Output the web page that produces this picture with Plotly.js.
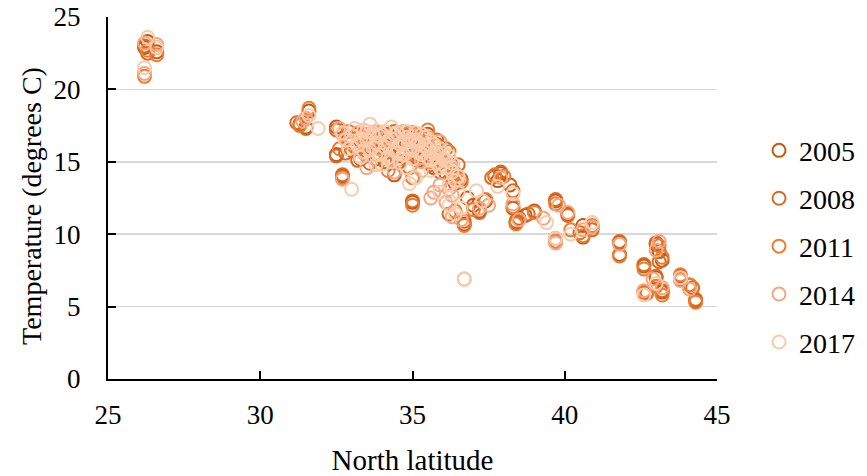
<!DOCTYPE html>
<html>
<head>
<meta charset="utf-8">
<script src="https://cdn.plot.ly/plotly-3.0.1.min.js"></script>
<style>html,body{margin:0;padding:0;background:#fff;}#chart{width:867px;height:476px;}</style>
</head>
<body>
<div id="chart"></div>
<script>
var seriesNames = ["2005", "2008", "2011", "2014", "2017"];

var lat2005 = [26.2,26.3,26.6,31.3,31.6,31.5,32.5,32.5,32.7,32.9,33.0,33.2,33.3,33.5,33.7,33.8,34.0,34.1,34.2,34.4,34.5,34.6,34.8,34.9,35.0,35.1,35.2,35.3,35.5,35.6,35.7,35.8,36.0,36.1,36.3,36.4,36.6,36.7,36.8,37.0,37.2,37.4,37.7,37.8,37.9,38.2,38.3,38.4,38.5,38.7,39.0,39.7,39.7,40.1,40.6,40.6,40.9,41.8,41.8,42.6,42.7,43.0,43.1,43.2,43.0,43.2,43.8,44.1,44.3];
var temp2005 = [22.9,23.3,22.6,17.6,18.5,17.4,17.4,15.5,14.0,16.6,15.8,16.9,15.2,16.3,17.0,15.6,16.5,15.0,16.9,14.1,16.2,15.4,16.8,15.9,12.2,16.6,15.1,16.0,16.9,15.3,14.6,16.2,15.0,14.2,14.8,13.5,13.8,10.7,12.5,12.0,11.6,12.3,14.0,13.7,14.2,13.4,11.8,10.8,11.1,11.3,11.6,12.3,9.5,11.4,10.6,9.8,10.5,9.4,8.6,7.8,6.0,9.3,8.8,8.2,7.0,6.0,7.1,6.5,5.4];

var lat2008 = [26.2,26.3,26.6,31.2,31.5,32.5,32.8,33.0,33.2,33.4,33.6,33.8,34.0,34.2,34.4,34.6,34.8,35.0,35.2,35.4,35.6,35.8,35.9,36.1,36.3,36.5,33.6,34.9,32.5,32.7,35.0,36.2,36.7,37.2,37.6,37.9,38.3,38.4,38.8,39.7,39.7,40.1,40.5,40.9,41.8,42.6,42.6,43.0,43.1,43.0,43.2,43.8,44.2,44.3];
var temp2008 = [23.0,22.5,22.9,17.7,17.3,17.2,15.6,16.6,15.1,16.9,16.0,15.2,16.7,15.8,17.1,15.0,16.2,17.0,15.4,16.6,14.8,16.5,14.3,15.9,13.9,14.8,14.9,14.6,15.4,14.1,12.3,11.4,10.9,11.5,13.9,14.3,13.0,10.9,11.4,12.4,9.7,11.3,10.1,10.3,9.5,7.9,6.0,9.4,8.1,7.1,6.1,6.9,6.3,5.5];

var lat2011 = [26.3,26.2,26.6,31.3,31.6,32.9,33.1,33.3,33.5,33.7,33.9,34.1,34.3,34.5,34.7,34.9,35.1,35.3,35.5,35.6,35.8,36.0,36.2,36.4,36.6,34.2,35.0,32.6,32.7,35.0,36.4,36.7,37.0,37.4,37.7,38.0,38.3,38.4,39.0,39.7,39.7,40.2,40.6,40.9,41.8,42.6,42.7,43.1,43.2,43.0,43.2,43.8,44.1,44.3];
var temp2011 = [22.7,20.9,22.4,17.5,18.7,17.1,16.0,16.7,15.4,16.2,17.0,15.6,16.5,15.1,16.4,17.0,15.5,16.3,17.2,15.0,16.1,14.7,15.7,14.2,13.6,14.4,13.9,15.9,13.9,12.0,11.6,10.6,11.7,12.4,14.1,14.0,11.9,10.7,11.5,9.5,12.1,10.3,9.9,10.6,8.5,7.6,5.9,9.2,8.4,6.4,5.8,7.2,6.5,5.3];

var lat2014 = [26.2,26.2,26.6,31.5,31.4,33.0,33.2,33.4,33.6,33.8,33.9,34.1,34.3,34.5,34.7,34.8,35.0,35.2,35.3,35.5,35.6,35.8,35.9,36.1,36.3,36.5,33.5,34.4,35.3,36.2,32.7,32.6,32.7,35.7,36.7,36.3,36.6,37.2,37.5,37.9,38.3,38.5,39.3,39.7,39.8,40.1,40.6,40.9,41.8,42.6,42.9,43.0,43.1,43.2,43.8,44.1,35.9,36.3,36.1,35.6];
var temp2014 = [23.2,21.1,23.1,18.0,17.8,16.3,17.0,15.6,16.6,17.1,15.9,16.6,15.2,16.4,17.1,15.6,16.8,16.2,15.0,16.7,15.9,15.3,16.4,15.0,14.5,13.7,14.6,14.3,14.4,13.1,16.9,17.3,13.8,12.9,6.9,11.2,11.0,11.8,12.0,13.9,12.1,11.0,11.1,9.4,12.0,11.5,10.3,10.5,9.3,6.1,6.9,8.9,9.5,6.3,6.8,6.2,13.4,12.7,12.2,12.5];

var lat2017 = [33.0,33.2,33.4,33.5,33.6,33.7,33.8,33.9,34.0,34.1,34.2,34.3,34.4,34.5,34.6,34.7,34.8,34.9,35.0,35.1,35.2,35.3,35.4,35.5,35.6,35.7,35.8,35.9,36.0,36.1,36.2,36.3,36.5,34.0,34.6,33.3,33.1,32.8,35.0,34.3,33.6,
  33.3,33.5,33.7,33.9,34.1,34.2,34.4,34.5,34.7,34.8,34.9,35.0,35.1,35.2,35.3,35.4,35.5,35.6,35.7,35.8,35.9,36.0,36.1,36.3,36.4,35.6,34.8,34.3,33.8,33.4,32.7,32.9,36.2,35.1,
  26.3,26.2,26.6,31.6,31.9,33.0,34.9,36.7,36.2,36.6,37.3,37.8,38.3,39.4,39.7,40.2,40.9,42.6,43.0,43.8,36.5,37.1,36.4,35.9];
var temp2017 = [16.8,16.2,17.2,16.5,15.8,17.0,16.3,15.5,16.9,16.0,15.3,16.6,15.8,17.0,16.2,15.5,16.7,15.9,15.2,16.5,15.7,16.9,16.1,15.3,16.4,15.6,14.9,15.9,15.2,14.6,15.4,14.3,14.0,14.8,14.9,15.3,17.3,16.5,16.4,17.4,17.6,
  16.6,17.1,16.0,16.8,17.1,16.4,16.9,15.6,16.4,17.1,16.5,15.8,17.0,16.3,15.5,16.7,15.9,15.1,16.2,15.6,14.6,15.6,15.1,14.9,13.7,14.4,14.6,15.0,14.8,15.7,17.0,15.9,13.4,13.9,
  23.6,21.5,22.9,18.2,17.3,13.1,13.5,6.9,12.0,11.8,12.3,13.3,12.8,10.8,9.7,10.0,10.8,5.8,6.6,7.0,12.9,13.0,11.4,12.9];

var lats = [lat2005, lat2008, lat2011, lat2014, lat2017];
var temps = [temp2005, temp2008, temp2011, temp2014, temp2017];
var colors = ["#C55A11", "#D96A20", "#ED7D31", "#F2A682", "#F8CBAD"];

var font = "Liberation Serif";
var traces = seriesNames.map(function (n, i) {
  return {
    type: "scatter", mode: "markers", name: n,
    x: lats[i], y: temps[i],
    legendgroup: "g" + i,
    marker: { symbol: "circle-open", size: 13, color: colors[i], line: { width: 2, color: colors[i] } },
    hoverinfo: "x+y"
  };
});

var layout = {
  width: 867, height: 476,
  margin: { l: 108, r: 150, t: 17, b: 97, autoexpand: false },
  paper_bgcolor: "#fff", plot_bgcolor: "#fff",
  font: { family: font, size: 28, color: "#000" },
  showlegend: true,
  legend: {
    x: 1.069, xanchor: "left", y: 0.367, yanchor: "middle",
    font: { family: font, size: 28, color: "#000" },
    traceorder: "grouped", tracegroupgap: 8.5,
    itemwidth: 30,
    itemsizing: "trace", bgcolor: "rgba(0,0,0,0)"
  },
  xaxis: {
    range: [25, 45], tick0: 25, dtick: 5, tickmode: "linear",
    showgrid: false, zeroline: false,
    showline: true, linecolor: "#000", linewidth: 2,
    ticks: "inside", ticklen: 8, tickwidth: 2, tickcolor: "#000",
    ticklabelstandoff: 11,
    tickfont: { family: font, size: 27, color: "#000" },
    title: { text: "North latitude", font: { family: font, size: 29, color: "#000" }, standoff: 21 }
  },
  yaxis: {
    range: [0, 25], tick0: 0, dtick: 5, tickmode: "linear",
    showgrid: true, gridcolor: "#D9D9D9", gridwidth: 1.5, zeroline: false,
    showline: true, linecolor: "#000", linewidth: 2,
    ticks: "inside", ticklen: 8, tickwidth: 2, tickcolor: "#000",
    ticklabelstandoff: 20,
    tickfont: { family: font, size: 27, color: "#000" }
  },
  annotations: [{
    text: "Temperature (degrees C)", textangle: -90,
    xref: "paper", yref: "paper", x: -0.1248, y: 0.478,
    xanchor: "center", yanchor: "middle", showarrow: false,
    font: { family: font, size: 28, color: "#000" }
  }]
};

Plotly.newPlot("chart", traces, layout, { displayModeBar: false, staticPlot: true });
</script>
</body>
</html>
